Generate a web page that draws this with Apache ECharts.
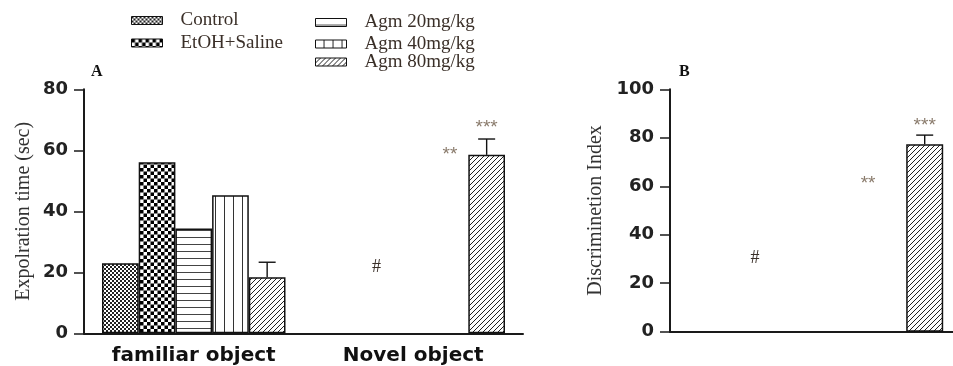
<!DOCTYPE html>
<html>
<head>
<meta charset="utf-8">
<script src="https://cdn.jsdelivr.net/npm/echarts@6/dist/echarts.min.js"></script>
<style>html,body{margin:0;padding:0;background:#fff}#c{width:953px;height:366px}</style>
</head>
<body>
<div id="c"></div>
<script>
// ---------- data ----------
const groups = ['Control', 'EtOH+Saline', 'Agm 20mg/kg', 'Agm 40mg/kg', 'Agm 80mg/kg'];
const categoriesA = ['familiar object', 'Novel object'];
const controlA = [23.0, null];
const etohA = [56.1, null];
const agm20A = [34.4, null];
const agm40A = [45.3, null];
const agm80A = [18.4, 58.5];
const agm80ErrA = [4.9, 5.2];
const ticksA = [0, 20, 40, 60, 80];

const categoriesB = groups;
const agm80B = [null, null, null, null, 77.3];
const agm80ErrB = [null, null, null, null, 3.8];
const ticksB = [0, 20, 40, 60, 80, 100];

// significance marks: text, category index, bar slot, value level
const annTextA = ['#', '**', '***'];
const annCatA = [1, 1, 1];
const annSlotA = [1, 3, 4];
const annValueA = [21.8, 59.9, 68.6];

const annTextB = ['#', '**', '***'];
const annCatB = [1, 3, 4];
const annValueB = [30.3, 62.6, 86.6];

// ---------- styles ----------
function pattern(size, draw) {
  const c = document.createElement('canvas');
  c.width = size; c.height = size;
  const ctx = c.getContext('2d');
  ctx.fillStyle = '#fff'; ctx.fillRect(0, 0, size, size);
  draw(ctx, size);
  return { image: c, repeat: 'repeat' };
}
const patControl = pattern(4, (x) => { x.fillStyle = '#222'; x.fillRect(0, 0, 2, 2); x.fillRect(2, 2, 2, 2); });
const patEtoh = pattern(7, (x) => { x.fillStyle = '#000'; x.fillRect(0, 0, 3.5, 3.5); x.fillRect(3.5, 3.5, 3.5, 3.5); });
const pat20 = pattern(7, (x) => { x.fillStyle = '#444'; x.fillRect(0, 6, 7, 1); });
const pat40 = pattern(9, (x) => { x.fillStyle = '#333'; x.fillRect(8, 0, 1, 9); });
const pat80 = pattern(5, (x) => {
  x.strokeStyle = '#222'; x.lineWidth = 1;
  x.beginPath();
  x.moveTo(0, 5); x.lineTo(5, 0);
  x.moveTo(-1, 1); x.lineTo(1, -1);
  x.moveTo(4, 6); x.lineTo(6, 4);
  x.stroke();
});
const pats = [patControl, patEtoh, pat20, pat40, pat80];
const seriesA = [controlA, etohA, agm20A, agm40A, agm80A];

const BAR_A = 36.7, BAR_B = 37;
const sansB = '"DejaVu Sans"';
const serif = '"Liberation Serif"';
const ink = '#1a1a1a';

function errRender(barW, nSlots) {
  return function (params, api) {
    const cat = api.value(0), slot = api.value(1), v = api.value(2), e = api.value(3);
    const b = api.coord([cat, v]);
    const t = api.coord([cat, v + e]);
    const x = b[0] + (slot - (nSlots - 1) / 2) * barW;
    const st = { stroke: '#111', lineWidth: 1.4 };
    return {
      type: 'group', children: [
        { type: 'line', shape: { x1: x, y1: b[1], x2: x, y2: t[1] }, style: st },
        { type: 'line', shape: { x1: x - 8.5, y1: t[1], x2: x + 8.5, y2: t[1] }, style: st }
      ]
    };
  };
}
function annRender(barW, nSlots, texts) {
  return function (params, api) {
    const cat = api.value(0), slot = api.value(1), v = api.value(2);
    const p = api.coord([cat, v]);
    const x = p[0] + (slot - (nSlots - 1) / 2) * barW;
    const txt = texts[params.dataIndex];
    const isHash = txt === '#';
    return {
      type: 'text', x: x, y: p[1] + (isHash ? 0 : 4),
      style: {
        text: txt, align: 'center', verticalAlign: 'middle',
        fill: isHash ? '#3a2f28' : '#8a7b6c',
        font: isHash ? '18px ' + serif : '19px "Liberation Sans"'
      }
    };
  };
}

const legendBase = {
  orient: 'vertical', padding: 0, itemWidth: 31, itemHeight: 8, icon: 'rect',
  itemStyle: { borderWidth: 1 },
  textStyle: { fontFamily: serif, fontSize: 19, color: '#3a2f28', padding: [0, 0, 0, 13] }
};
function lg(name, left, center) {
  return Object.assign({}, legendBase, { data: [name], left: left, top: center - 9.5 });
}

const yAxisCommon = {
  type: 'value', min: 0, splitLine: { show: false },
  axisLine: { show: true, lineStyle: { color: ink, width: 2 } },
  axisTick: { show: true, length: 10, lineStyle: { color: ink, width: 1.5 } },
  axisLabel: { color: '#222', fontFamily: sansB, fontWeight: 'bold', fontSize: 18, margin: 16 },
  nameLocation: 'middle', nameRotate: 90,
  nameTextStyle: { fontFamily: serif, fontSize: 20, color: '#333' }
};

const option = {
  animation: false,
  backgroundColor: '#fff',
  title: [
    { text: 'A', left: 86, top: 59, textStyle: { fontFamily: serif, fontWeight: 'bold', fontSize: 16, color: '#111' } },
    { text: 'B', left: 674, top: 59, textStyle: { fontFamily: serif, fontWeight: 'bold', fontSize: 16, color: '#111' } }
  ],
  legend: [
    lg(groups[0], 131, 20.5),
    lg(groups[1], 131, 43),
    lg(groups[2], 315, 22.5),
    lg(groups[3], 315, 44),
    lg(groups[4], 315, 62)
  ],
  grid: [
    { left: 84, right: 953 - 523, top: 89.3, height: 244 },
    { left: 670, right: -3, top: 89.3, height: 242.4 }
  ],
  xAxis: [
    {
      type: 'category', gridIndex: 0, data: categoriesA,
      axisLine: { lineStyle: { color: ink, width: 2 } }, axisTick: { show: false },
      axisLabel: { color: '#111', fontFamily: sansB, fontWeight: 'bold', fontSize: 20, margin: 12 }
    },
    {
      type: 'category', gridIndex: 1, data: categoriesB,
      axisLine: { lineStyle: { color: ink, width: 2 } }, axisTick: { show: false },
      axisLabel: { show: false }
    }
  ],
  yAxis: [
    Object.assign({}, yAxisCommon, {
      gridIndex: 0, max: ticksA[ticksA.length - 1], interval: ticksA[1] - ticksA[0],
      name: 'Expolration time (sec)', nameGap: 50
    }),
    Object.assign({}, yAxisCommon, {
      gridIndex: 1, max: ticksB[ticksB.length - 1], interval: ticksB[1] - ticksB[0],
      name: 'Discriminetion Index', nameGap: 64
    })
  ],
  series: [
    ...seriesA.map((d, i) => ({
      name: groups[i], type: 'bar', xAxisIndex: 0, yAxisIndex: 0,
      data: d, barWidth: BAR_A, barGap: '0%',
      itemStyle: { color: pats[i], borderColor: '#111', borderWidth: 1.5 }
    })),
    {
      name: groups[4], type: 'bar', xAxisIndex: 1, yAxisIndex: 1,
      data: agm80B, barWidth: BAR_B,
      itemStyle: { color: pat80, borderColor: '#111', borderWidth: 1.5 }
    },
    {
      name: 'errA', type: 'custom', xAxisIndex: 0, yAxisIndex: 0, z: 5, silent: true,
      encode: { x: 0, y: 2 },
      renderItem: errRender(BAR_A, 5),
      data: agm80A.map((v, i) => [i, 4, v, agm80ErrA[i]])
    },
    {
      name: 'errB', type: 'custom', xAxisIndex: 1, yAxisIndex: 1, z: 5, silent: true,
      encode: { x: 0, y: 2 },
      renderItem: errRender(BAR_B, 1),
      data: agm80B.map((v, i) => [i, 0, v, agm80ErrB[i]]).filter(d => d[2] != null)
    },
    {
      name: 'annA', type: 'custom', xAxisIndex: 0, yAxisIndex: 0, z: 6, silent: true,
      encode: { x: 0, y: 2 },
      renderItem: annRender(BAR_A, 5, annTextA),
      data: annTextA.map((t, i) => [annCatA[i], annSlotA[i], annValueA[i]])
    },
    {
      name: 'annB', type: 'custom', xAxisIndex: 1, yAxisIndex: 1, z: 6, silent: true,
      encode: { x: 0, y: 2 },
      renderItem: annRender(BAR_B, 1, annTextB),
      data: annTextB.map((t, i) => [annCatB[i], 0, annValueB[i]])
    }
  ]
};
const chart = echarts.init(document.getElementById('c'), null, { renderer: 'canvas' });
chart.setOption(option);
</script>
</body>
</html>
